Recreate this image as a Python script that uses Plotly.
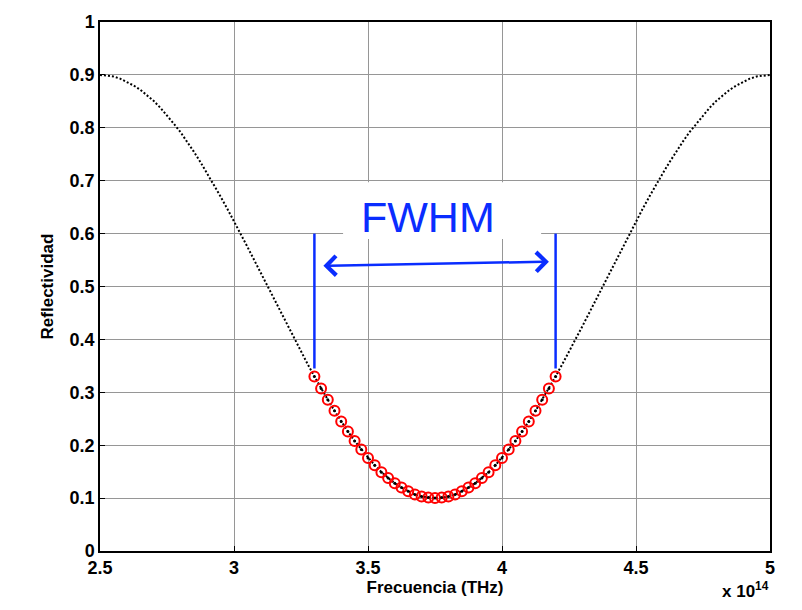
import numpy as np
import plotly.graph_objects as go

# frequency samples (Hz), 2.5e14 .. 5e14 every 0.025e14
freq = np.linspace(2.5e14, 5e14, 101)

# reflectivity
reflect = [
    0.900, 0.899, 0.897, 0.893, 0.887, 0.880, 0.872, 0.862, 0.851, 0.838,
    0.824, 0.808, 0.792, 0.774, 0.755, 0.735, 0.714, 0.693, 0.670, 0.647,
    0.624, 0.599, 0.575, 0.550, 0.525, 0.500, 0.475, 0.450, 0.425, 0.401,
    0.376, 0.353, 0.330, 0.307, 0.286, 0.265, 0.245, 0.226, 0.208, 0.192,
    0.176, 0.162, 0.149, 0.138, 0.128, 0.120, 0.113, 0.107, 0.103, 0.101,
    0.100,
    0.101, 0.103, 0.107, 0.113, 0.120, 0.128, 0.138, 0.149, 0.162, 0.176,
    0.192, 0.208, 0.226, 0.245, 0.265, 0.286, 0.307, 0.330, 0.353, 0.376,
    0.401, 0.425, 0.450, 0.475, 0.500, 0.525, 0.550, 0.575, 0.599, 0.624,
    0.647, 0.670, 0.693, 0.714, 0.735, 0.755, 0.774, 0.792, 0.808, 0.824,
    0.838, 0.851, 0.862, 0.872, 0.880, 0.887, 0.893, 0.897, 0.899, 0.900,
]

fwhm_lo, fwhm_hi = 3.3e14, 4.2e14
marker_top = 0.6
marker_bottom = 0.345
arrow_x = (3.328e14, 4.175e14)
arrow_y = (0.539, 0.547)

x_ticks = [2.5e14, 3e14, 3.5e14, 4e14, 4.5e14, 5e14]
x_text = ["2.5", "3", "3.5", "4", "4.5", "5"]
y_ticks = [i / 10 for i in range(11)]
y_text = ["0", "0.1", "0.2", "0.3", "0.4", "0.5", "0.6", "0.7", "0.8", "0.9", "1"]

band = [(f, r) for f, r in zip(freq, reflect) if fwhm_lo - 1e10 <= f <= fwhm_hi + 1e10]
band_f = [b[0] for b in band]
band_r = [b[1] for b in band]

BLUE = "rgb(10,45,255)"
FONT = "Liberation Sans, Arial, Helvetica, sans-serif"

fig = go.Figure()
fig.add_trace(go.Scatter(x=freq, y=reflect, mode="lines",
                         line=dict(color="black", width=2, dash="2px,2px")))
fig.add_trace(go.Scatter(x=band_f, y=band_r, mode="markers",
                         marker=dict(symbol="circle-open", size=10, color="red",
                                     line=dict(width=2, color="red"))))
fig.add_trace(go.Scatter(x=band_f, y=band_r, mode="markers",
                         marker=dict(symbol="circle", size=3, color="black")))
for xv in (fwhm_lo, fwhm_hi):
    fig.add_trace(go.Scatter(x=[xv, xv], y=[marker_bottom, marker_top], mode="lines",
                             line=dict(color=BLUE, width=2.5)))

# white label box behind the FWHM text, hides the grid there
fig.add_shape(type="rect", x0=3.407e14, x1=4.146e14, y0=0.59, y1=0.697,
              xref="x", yref="y", fillcolor="white", line=dict(width=0),
              layer="above")

fig.add_annotation(x=arrow_x[1], y=arrow_y[1], ax=arrow_x[0], ay=arrow_y[0],
                   xref="x", yref="y", axref="x", ayref="y", text="",
                   showarrow=True, arrowhead=4, arrowside="end+start",
                   arrowsize=1.5, arrowwidth=2.5, arrowcolor=BLUE)
fig.add_annotation(x=3.724e14, y=0.632, xref="x", yref="y", text="FWHM",
                   showarrow=False,
                   font=dict(family=FONT, size=43, color=BLUE))
fig.add_annotation(x=1.0, y=-0.0955, xref="paper", yref="paper",
                   text="<b>x 10<sup>14</sup></b>", showarrow=False,
                   xanchor="right", yanchor="bottom", borderpad=0,
                   font=dict(family=FONT, size=17, color="black"))

axis_common = dict(showline=True, linecolor="black", linewidth=1.5, mirror=True,
                   ticks="inside", ticklen=5, tickcolor="black",
                   showgrid=True, gridcolor="rgb(150,150,150)", gridwidth=1,
                   zeroline=False, automargin=False,
                   tickfont=dict(family=FONT, size=18, color="black", weight="bold"))

fig.update_xaxes(range=[2.5e14, 5e14], tickvals=x_ticks, ticktext=x_text,
                 title=dict(text="<b>Frecuencia (THz)</b>", standoff=2,
                            font=dict(family=FONT, size=17, color="black")),
                 **axis_common)
fig.update_yaxes(range=[0, 1], tickvals=y_ticks, ticktext=y_text,
                 title=dict(text="<b>Reflectividad</b>", standoff=12,
                            font=dict(family=FONT, size=17, color="black")),
                 **axis_common)

# page body adds an 8px margin, so the figure is sized to sit inside the window
fig.update_layout(width=786, height=594, showlegend=False,
                  plot_bgcolor="white", paper_bgcolor="white",
                  margin=dict(l=92, r=24, t=14, b=51))

fig.write_html("out.html")
